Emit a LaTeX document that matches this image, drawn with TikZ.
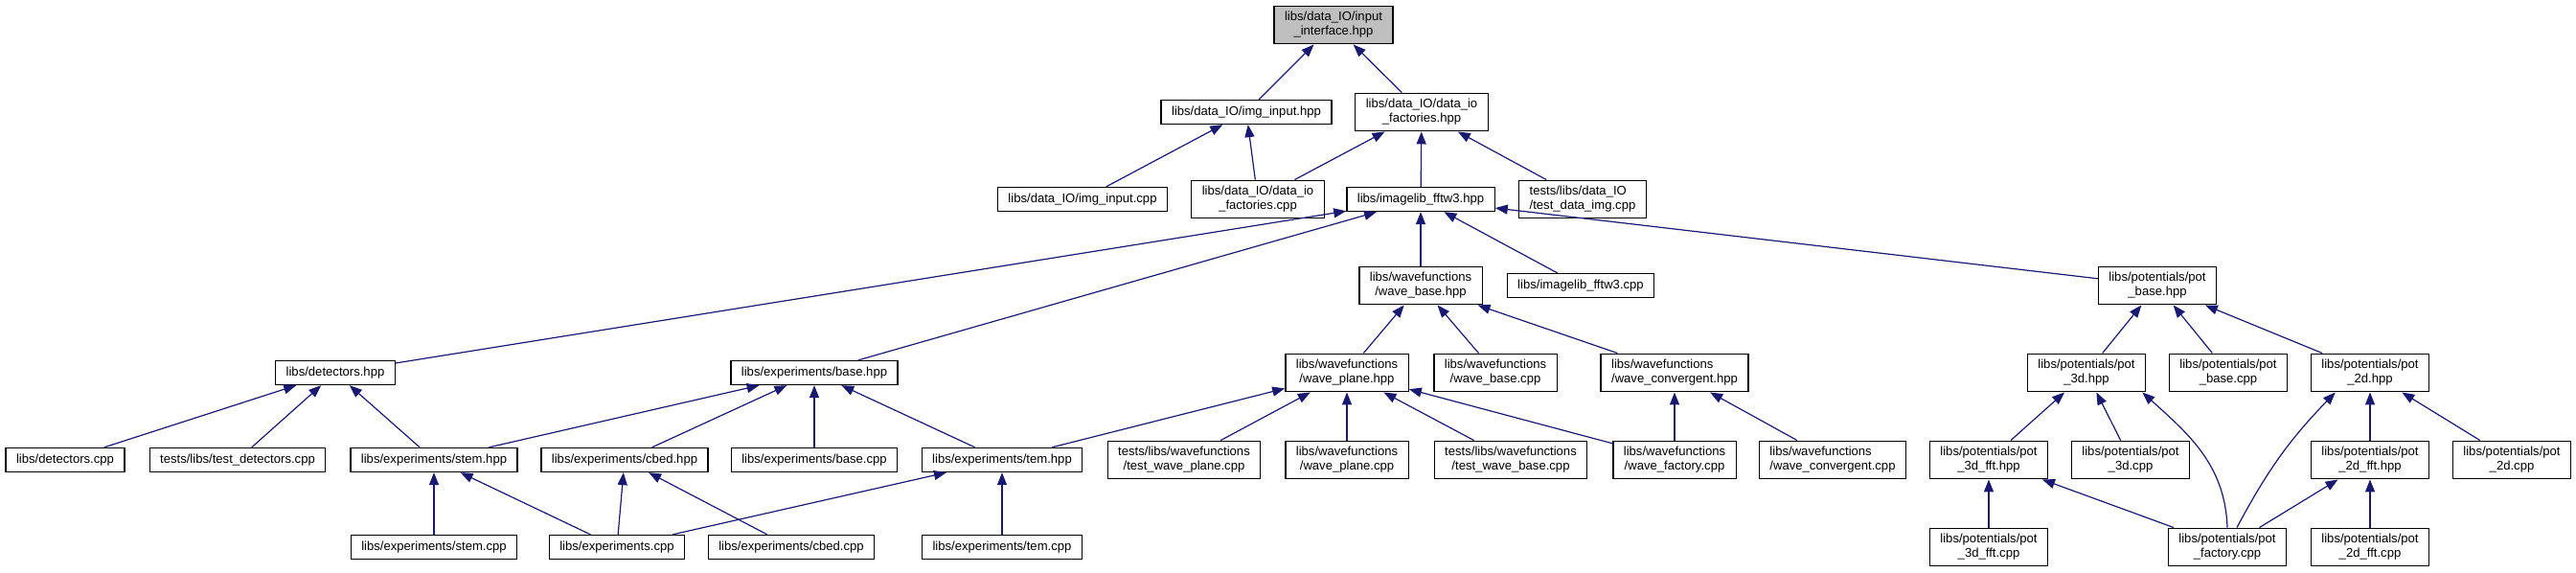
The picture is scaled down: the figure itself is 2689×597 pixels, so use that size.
\documentclass[tikz,border=0pt]{standalone}
\usepackage{fontspec}
\setmainfont{Liberation Sans}
\usetikzlibrary{arrows.meta}
\definecolor{edgeblue}{RGB}{25, 25, 112}
\definecolor{topgray}{RGB}{191, 191, 191}

\begin{document}
\begin{tikzpicture}[x=1pt, y=-1pt,
  file/.style={draw=black, line width=1.3pt, fill=white, inner xsep=11pt, inner ysep=6.2pt,
    minimum height=25pt, align=center, font=\fontsize{13.1}{15}\selectfont},
  edge/.style={draw=edgeblue, line width=1.2pt, -{Triangle[length=13pt, width=10pt]}}]

  \useasboundingbox (0, 0) rectangle (2689, 597);

  % top rows
  \node[file, fill=topgray] (iface) at (1392, 26) {libs/data\_IO/input\\\_interface.hpp};
  \node[file] (imgh) at (1301, 117) {libs/data\_IO/img\_input.hpp};
  \node[file] (facth) at (1484, 117) {libs/data\_IO/data\_io\\\_factories.hpp};
  \node[file] (imgc) at (1130, 208) {libs/data\_IO/img\_input.cpp};
  \node[file] (factc) at (1313, 208) {libs/data\_IO/data\_io\\\_factories.cpp};
  \node[file] (fftwh) at (1483, 208) {libs/imagelib\_fftw3.hpp};
  \node[file, align=left] (tdimg) at (1652, 208) {tests/libs/data\_IO\\/test\_data\_img.cpp};
  \node[file] (waveh) at (1483, 298) {libs/wavefunctions\\/wave\_base.hpp};
  \node[file] (fftwc) at (1650, 298) {libs/imagelib\_fftw3.cpp};
  \node[file] (potb) at (2252, 298) {libs/potentials/pot\\\_base.hpp};

  % headers
  \node[file] (deth) at (350, 389) {libs/detectors.hpp};
  \node[file] (baseh) at (850, 389) {libs/experiments/base.hpp};
  \node[file] (planeh) at (1406, 389) {libs/wavefunctions\\/wave\_plane.hpp};
  \node[file] (wavec) at (1561, 389) {libs/wavefunctions\\/wave\_base.cpp};
  \node[file, align=left] (convh) at (1748, 389) {libs/wavefunctions\\/wave\_convergent.hpp};
  \node[file] (p3dh) at (2178, 389) {libs/potentials/pot\\\_3d.hpp};
  \node[file] (potbc) at (2326, 389) {libs/potentials/pot\\\_base.cpp};
  \node[file] (p2dh) at (2474, 389) {libs/potentials/pot\\\_2d.hpp};

  \node[file] (detc) at (68, 480) {libs/detectors.cpp};
  \node[file] (tdet) at (248, 480) {tests/libs/test\_detectors.cpp};
  \node[file] (stemh) at (453, 480) {libs/experiments/stem.hpp};
  \node[file] (cbedh) at (652, 480) {libs/experiments/cbed.hpp};
  \node[file] (basec) at (850, 480) {libs/experiments/base.cpp};
  \node[file] (temh) at (1046, 480) {libs/experiments/tem.hpp};
  \node[file] (tplane) at (1236, 480) {tests/libs/wavefunctions\\/test\_wave\_plane.cpp};
  \node[file] (planec) at (1406, 480) {libs/wavefunctions\\/wave\_plane.cpp};
  \node[file] (twbase) at (1577, 480) {tests/libs/wavefunctions\\/test\_wave\_base.cpp};
  \node[file] (wfac) at (1748, 480) {libs/wavefunctions\\/wave\_factory.cpp};
  \node[file, align=left] (convc) at (1913, 480) {libs/wavefunctions\\/wave\_convergent.cpp};
  \node[file] (p3dfh) at (2076, 480) {libs/potentials/pot\\\_3d\_fft.hpp};
  \node[file] (p3dc) at (2224, 480) {libs/potentials/pot\\\_3d.cpp};
  \node[file] (p2dfh) at (2474, 480) {libs/potentials/pot\\\_2d\_fft.hpp};
  \node[file] (p2dc) at (2622, 480) {libs/potentials/pot\\\_2d.cpp};

  % bottom row
  \node[file] (stemc) at (453, 571) {libs/experiments/stem.cpp};
  \node[file] (expc) at (644, 571) {libs/experiments.cpp};
  \node[file] (cbedc) at (826, 571) {libs/experiments/cbed.cpp};
  \node[file] (temc) at (1046, 571) {libs/experiments/tem.cpp};
  \node[file] (p3dfc) at (2076, 571) {libs/potentials/pot\\\_3d\_fft.cpp};
  \node[file] (pfac) at (2325, 571) {libs/potentials/pot\\\_factory.cpp};
  \node[file] (p2dfc) at (2474, 571) {libs/potentials/pot\\\_2d\_fft.cpp};

  % includes
  \foreach \src/\dst in {imgh/iface, facth/iface, imgc/imgh, factc/imgh, factc/facth,
      fftwh/facth, tdimg/facth, deth/fftwh, baseh/fftwh, waveh/fftwh, fftwc/fftwh,
      potb/fftwh, planeh/waveh, wavec/waveh, convh/waveh, detc/deth, tdet/deth,
      stemh/deth, stemh/baseh, cbedh/baseh, basec/baseh, temh/baseh, temh/planeh,
      tplane/planeh, planec/planeh, twbase/planeh, wfac/planeh, wfac/convh, convc/convh,
      stemc/stemh, expc/stemh, expc/cbedh, cbedc/cbedh, expc/temh, temc/temh,
      p3dh/potb, potbc/potb, p2dh/potb, p3dfh/p3dh, p3dc/p3dh, p2dfh/p2dh, p2dc/p2dh,
      p3dfc/p3dfh, pfac/p3dfh, pfac/p2dfh, p2dfc/p2dfh} {
    \draw[edge] (\src) -- (\dst);
  }
  \draw[edge] (pfac.north) to[out=92, in=-42] ([xshift=-4pt]p3dh.south east);
  \draw[edge] ([xshift=10pt]pfac.north) to[bend left=8] ([xshift=26pt]p2dh.south west);

\end{tikzpicture}
\end{document}
